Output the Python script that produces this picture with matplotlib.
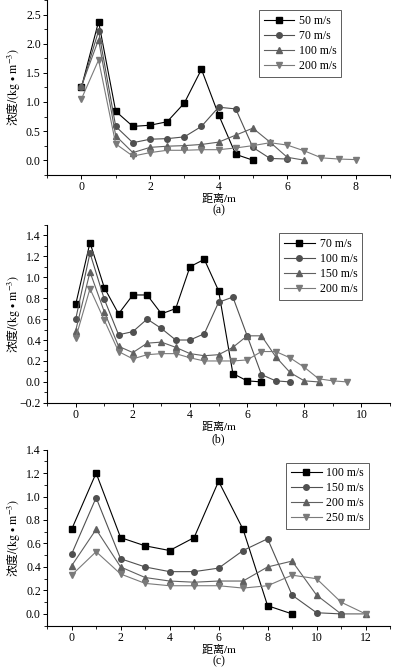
import numpy as np
import matplotlib.pyplot as plt
from matplotlib.ticker import MultipleLocator

plt.rcParams['font.family'] = ['Liberation Serif', 'DejaVu Sans']
plt.rcParams['mathtext.fontset'] = 'stix'
plt.rcParams['font.size'] = 8

# (a)
a_labels = ["50 m/s", "70 m/s", "100 m/s", "200 m/s"]
a_50 = [1.25, 2.38, 0.84, 0.58, 0.60, 0.66, 0.98, 1.56, 0.78, 0.10, 0.00]
a_70 = [1.25, 2.22, 0.58, 0.30, 0.36, 0.37, 0.40, 0.58, 0.91, 0.88, 0.22, 0.03, 0.02]
a_100 = [1.27, 2.07, 0.42, 0.13, 0.22, 0.24, 0.25, 0.27, 0.31, 0.43, 0.55, 0.31, 0.05, 0.00]
a_200 = [1.05, 1.72, 0.28, 0.07, 0.13, 0.17, 0.17, 0.18, 0.18, 0.21, 0.25, 0.30, 0.26, 0.16,
         0.04, 0.02, 0.01]

# (b)
b_labels = ["70 m/s", "100 m/s", "150 m/s", "200 m/s"]
b_70 = [0.74, 1.33, 0.90, 0.65, 0.83, 0.83, 0.65, 0.70, 1.10, 1.17, 0.87, 0.08, 0.01, 0.00]
b_100 = [0.60, 1.23, 0.79, 0.45, 0.48, 0.60, 0.51, 0.40, 0.40, 0.46, 0.76, 0.81, 0.44, 0.07,
         0.01, 0.00]
b_150 = [0.49, 1.05, 0.67, 0.34, 0.28, 0.37, 0.38, 0.33, 0.27, 0.25, 0.26, 0.33, 0.44, 0.44,
         0.24, 0.09, 0.01, 0.00]
b_200 = [0.42, 0.89, 0.59, 0.29, 0.22, 0.26, 0.27, 0.27, 0.23, 0.20, 0.20, 0.20, 0.21, 0.29,
         0.29, 0.23, 0.14, 0.03, 0.01, 0.00]

# (c)
c_labels = ["100 m/s", "150 m/s", "200 m/s", "250 m/s"]
c_100 = [0.72, 1.20, 0.65, 0.58, 0.54, 0.65, 1.13, 0.72, 0.07, 0.00]
c_150 = [0.51, 0.99, 0.47, 0.40, 0.36, 0.36, 0.39, 0.54, 0.64, 0.16, 0.01, 0.00]
c_200 = [0.41, 0.72, 0.40, 0.31, 0.28, 0.27, 0.28, 0.28, 0.40, 0.45, 0.16, 0.00, 0.00]
c_250 = [0.33, 0.53, 0.34, 0.26, 0.24, 0.24, 0.24, 0.22, 0.24, 0.33, 0.30, 0.10, 0.00]

colors = ["#000000", "#505050", "#606060", "#7a7a7a"]
markers = ["s", "o", "^", "v"]
# chinese part in the CJK font, latin part through stix mathtext (times-like)
cjk = ['Noto Sans CJK SC', 'DejaVu Sans']
xlab = "距离$\\mathrm{/m}$"
ylab = "浓度$\\mathrm{/(kg}\\,\\bullet\\,\\mathrm{m}^{-3}\\mathrm{)}$"

W, H = 396, 667
fig = plt.figure(figsize=(W / 100, H / 100), dpi=100)

panels = [
    dict(rect=[0.119, 0.738, 0.866, 0.262], series=[a_50, a_70, a_100, a_200], labels=a_labels,
         step=0.5, xlim=(-1, 9), ylim=(-0.25, 2.75), xmaj=2, ymaj=0.5,
         legend=(0.60, 0.975), cap="(a)"),
    dict(rect=[0.119, 0.396, 0.866, 0.267], series=[b_70, b_100, b_150, b_200], labels=b_labels,
         step=0.5, xlim=(-1, 11), ylim=(-0.2, 1.5), xmaj=2, ymaj=0.2,
         legend=(0.66, 0.985), cap="(b)"),
    dict(rect=[0.119, 0.062, 0.866, 0.264], series=[c_100, c_150, c_200, c_250], labels=c_labels,
         step=1.0, xlim=(-1, 13), ylim=(-0.1, 1.4), xmaj=2, ymaj=0.2,
         legend=(0.68, 0.96), cap="(c)"),
]

for p in panels:
    ax = fig.add_axes(p["rect"])
    hpx = p["rect"][3] * H
    wpx = p["rect"][2] * W
    for vals, lab, c, m in zip(p["series"], p["labels"], colors, markers):
        x = np.arange(len(vals)) * p["step"]
        ax.plot(x, vals, color=c, marker=m, markersize=4, lw=0.8, label=lab)
    ax.set_xlim(*p["xlim"])
    ax.set_ylim(*p["ylim"])
    ax.xaxis.set_major_locator(MultipleLocator(p["xmaj"]))
    ax.xaxis.set_minor_locator(MultipleLocator(p["xmaj"] / 2))
    ax.yaxis.set_major_locator(MultipleLocator(p["ymaj"]))
    ax.yaxis.set_minor_locator(MultipleLocator(p["ymaj"] / 2))
    ax.yaxis.set_major_formatter(plt.FuncFormatter(lambda v, pos: f"{v:.1f}".replace("-", "\u2212")))
    for s in ["top", "right"]:
        ax.spines[s].set_visible(False)
    for s in ["left", "bottom"]:
        ax.spines[s].set_linewidth(0.8)
    ax.tick_params(which="major", direction="out", length=3, width=0.7, labelsize=8.5, pad=1.5)
    ax.tick_params(which="minor", direction="out", length=2, width=0.6)
    ax.set_xlabel(xlab, fontsize=8, family=cjk, va="center")
    ax.xaxis.set_label_coords(0.5, -23.5 / hpx)
    ax.set_ylabel(ylab, fontsize=8.5, family=cjk, va="center")
    ax.yaxis.set_label_coords(-34 / wpx, 0.5)
    leg = ax.legend(loc="upper left", bbox_to_anchor=p["legend"], fontsize=8.5, frameon=True,
                    fancybox=False, edgecolor="#333333", handlelength=2.6, handletextpad=0.4,
                    labelspacing=0.25, borderpad=0.4)
    leg.get_frame().set_linewidth(0.7)
    ax.annotate(p["cap"], xy=(0.5, 0), xycoords="axes fraction", xytext=(0, -36),
                textcoords="offset pixels", ha="center", va="center", fontsize=8.5)

fig.savefig("out.png", dpi=100)
